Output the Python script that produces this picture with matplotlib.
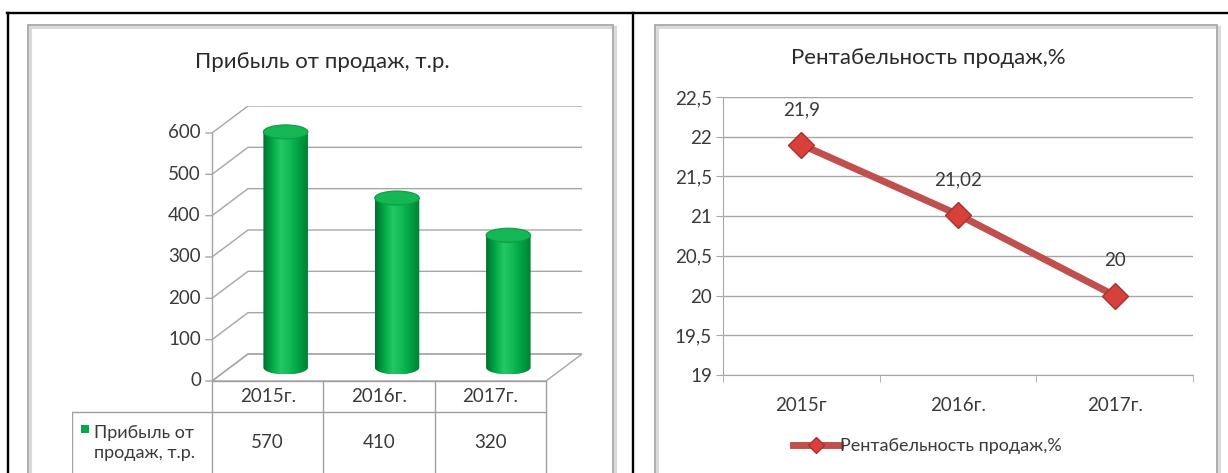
import numpy as np
import matplotlib
matplotlib.use("Agg")
import matplotlib.pyplot as plt
from matplotlib.patches import Rectangle, Ellipse, PathPatch, Polygon
from matplotlib.path import Path
from matplotlib.colors import LinearSegmentedColormap
from matplotlib.lines import Line2D

# ---- data -------------------------------------------------------------
bar_years = ["2015г.", "2016г.", "2017г."]
profit = [570, 410, 320]
profit_title = "Прибыль от продаж, т.р."
profit_legend = "Прибыль от\nпродаж, т.р."
profit_ticks = [0, 100, 200, 300, 400, 500, 600]

line_years = ["2015г", "2016г.", "2017г."]
margin = [21.9, 21.02, 20.0]
margin_title = "Рентабельность продаж,%"
margin_ticks = [19, 19.5, 20, 20.5, 21, 21.5, 22, 22.5]

# ---- figure -----------------------------------------------------------
W, H = 1228, 473
plt.rcParams['font.family'] = ['Lato', 'DejaVu Sans']
fig = plt.figure(figsize=(W / 100, H / 100), dpi=100)
fig.patch.set_facecolor('white')


def fx(x):
    return x / W


def fy(y):
    return 1 - y / H


TXT = '#3A3A3A'
GRID = '#A6A6A6'
FS = 13.5
FS_TITLE = 16


def comma(v):
    return f"{v:g}".replace('.', ',')


# outer table rules
for xs, ys in [([fx(7), 1.0], [fy(13.5)] * 2),
               ([fx(7.5)] * 2, [fy(13), 0.0]),
               ([fx(633)] * 2, [fy(13), 0.0])]:
    fig.add_artist(Line2D(xs, ys, color='black', lw=1.7,
                          transform=fig.transFigure))

# chart frames with soft shadow
for x0, x1 in [(28, 613), (655, 1217)]:
    fig.add_artist(Rectangle((fx(x0 + 2), fy(480)), (x1 - x0) / W, (480 - 27) / H,
                             transform=fig.transFigure, fill=False,
                             edgecolor='#DADADA', lw=2.2))
    fig.add_artist(Rectangle((fx(x0), fy(480)), (x1 - x0) / W, (480 - 25) / H,
                             transform=fig.transFigure, fill=False,
                             edgecolor='#A8A8A8', lw=1.3))

# ---- left: pseudo-3D cylinder chart with data table -------------------
ax = fig.add_axes([fx(72), 0, (582 - 72) / W, (473 - 106) / H])
ax.set_axis_off()
XL = (-1.7575, 2.823)
YL = (-222.6, 665.3)
dx, dy = 0.323, 65.3          # depth offset of the back wall
n = len(profit)
x_left, x_right = -0.5, n - 0.5

# floor
floor = Polygon([(x_left, 0), (x_left + dx, dy), (x_right + dx, dy), (x_right, 0)],
                closed=True, facecolor='white', edgecolor=GRID, lw=1, zorder=1)
ax.add_patch(floor)

# gridlines on the side and back walls
for v in profit_ticks:
    ax.plot([x_left - 0.06, x_left, x_left + dx, x_right + dx],
            [v, v, v + dy, v + dy], color=GRID, lw=1, zorder=1,
            solid_capstyle='butt')
    ax.text(x_left - 0.1, v, str(v), ha='right', va='center',
            fontsize=FS, color=TXT)
ax.plot([x_left, x_left], [0, max(profit_ticks)], color=GRID, lw=1, zorder=1)

# cylinders
cmap = LinearSegmentedColormap.from_list(
    'cyl', ['#00702E', '#00A646', '#25C965', '#12B955', '#00A043', '#007F34'])
grad = np.linspace(0, 1, 256).reshape(1, -1)
hw = 0.20
eh = 7 / 0.4133
base = dy / 2
t = np.linspace(np.pi, 2 * np.pi, 60)
for i, v in enumerate(profit):
    cx = i + dx / 2
    top = base + v
    verts = [(cx - hw, top), (cx - hw, base)]
    verts += list(zip(cx + hw * np.cos(t), base + eh * np.sin(t)))
    verts += [(cx + hw, top), (cx - hw, top)]
    codes = [Path.MOVETO] + [Path.LINETO] * (len(verts) - 2) + [Path.CLOSEPOLY]
    body = PathPatch(Path(verts, codes), facecolor='none', edgecolor='none')
    ax.add_patch(body)
    im = ax.imshow(grad, extent=[cx - hw, cx + hw, base - eh, top],
                   aspect='auto', cmap=cmap, zorder=3, interpolation='bilinear')
    im.set_clip_path(body)
    ax.add_patch(Ellipse((cx, top), 2 * hw, 2 * eh, facecolor='#15B654',
                         edgecolor='#0C9C45', lw=0.8, zorder=4))

# data table
row1 = -75
bottom = YL[0]
tcol = '#A0A0A0'
ax.plot([x_left, x_right], [0, 0], color=tcol, lw=1, zorder=2)
ax.plot([XL[0] + 0.003, x_right], [row1, row1], color=tcol, lw=1)
for xb in np.arange(x_left, x_right + 0.5, 1.0):
    ax.plot([xb, xb], [0, bottom], color=tcol, lw=1)
ax.plot([XL[0] + 0.003] * 2, [row1, bottom], color=tcol, lw=1)
for i, (yr, v) in enumerate(zip(bar_years, profit)):
    ax.text(i, row1 / 2, yr, ha='center', va='center', fontsize=FS, color=TXT)
    ax.text(i, -150, str(v), ha='center', va='center', fontsize=FS, color=TXT)
ax.add_patch(Rectangle((-1.641 - 0.04, -116 - 9.5), 0.08, 19,
                       facecolor='#00A84A', edgecolor='none'))
ax.text(-1.56, -150, profit_legend, ha='left', va='center', fontsize=FS - 0.5,
        color=TXT, linespacing=1.3)
ax.set_xlim(*XL)
ax.set_ylim(*YL)

fig.text(fx(322), fy(62), profit_title, ha='center', va='center',
         fontsize=FS_TITLE, color='#2A2A2A')

# ---- right: line chart --------------------------------------------------
axr = fig.add_axes([fx(723), fy(375), (1193 - 723) / W, (375 - 97) / H])
xs = np.arange(len(margin))
axr.plot(xs, margin, color='#C0504D', lw=5, marker='D', ms=13,
         mfc='#D8403A', mec='#A83030', mew=1.0, zorder=3,
         label=margin_title, clip_on=False)
for x, v in zip(xs, margin):
    axr.annotate(comma(v), (x, v), xytext=(0, 25), textcoords='offset points',
                 ha='center', va='center', fontsize=FS, color=TXT)
axr.set_xlim(-0.5, len(margin) - 0.5)
axr.set_ylim(margin_ticks[0], margin_ticks[-1])
axr.set_yticks(margin_ticks)
axr.set_yticklabels([comma(v) for v in margin_ticks])
axr.set_xticks(xs)
axr.set_xticklabels(line_years)
axr.set_xticks(np.arange(-0.5, len(margin)), minor=True)
axr.tick_params(axis='x', which='major', length=0, pad=16, labelsize=FS,
                labelcolor=TXT)
axr.tick_params(axis='x', which='minor', length=5, color=GRID, direction='out')
axr.tick_params(axis='y', length=5, color=GRID, labelsize=FS, labelcolor=TXT,
                pad=3)
axr.grid(axis='y', color=GRID, lw=1)
axr.set_axisbelow(True)
for s in ['top', 'right']:
    axr.spines[s].set_visible(False)
for s in ['left', 'bottom']:
    axr.spines[s].set_color(GRID)
axr.legend(loc='center', bbox_to_anchor=(fx(927), fy(446)),
           bbox_transform=fig.transFigure, frameon=False, fontsize=FS - 0.5,
           handlelength=2.6, handletextpad=0.0, markerscale=0.6,
           labelcolor=TXT)

fig.text(fx(928), fy(58), margin_title, ha='center', va='center',
         fontsize=FS_TITLE, color='#2A2A2A')

fig.savefig('out.png', dpi=100, facecolor='white')
